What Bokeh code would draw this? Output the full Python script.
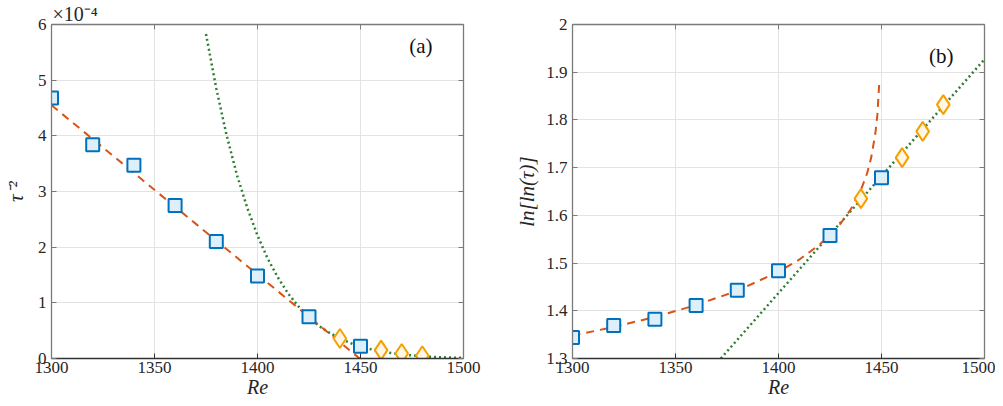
from bokeh.plotting import figure
from bokeh.models import LinearAxis, FixedTicker, Label, Range1d, Title
from bokeh.layouts import row
from bokeh.embed import file_html
from bokeh.resources import INLINE

# ---------------- data ----------------
# panel (a): tau^-2 in units of 1e-4
re_sq = [1300, 1320, 1340, 1360, 1380, 1400, 1425, 1450]
tau_sq = [4.68, 3.84, 3.47, 2.75, 2.10, 1.48, 0.75, 0.22]
re_dm = [1440, 1460, 1470, 1480]
tau_dm = [0.36, 0.15, 0.09, 0.05]
fit_lin_re = [1300, 1449.6]
fit_lin_val = [4.55, 0.0]
fit_exp_re = [1375, 1380, 1385, 1390, 1395, 1400, 1405, 1410, 1415, 1420, 1425,
              1430, 1435, 1440, 1445, 1450, 1460, 1470, 1480, 1490, 1500]
fit_exp_val = [5.83, 4.85, 4.01, 3.30, 2.71, 2.21, 1.79, 1.45, 1.16, 0.93, 0.74,
               0.58, 0.46, 0.36, 0.28, 0.21, 0.124, 0.071, 0.039, 0.021, 0.011]

# panel (b): ln[ln(tau)]
ll_sq = [1.344, 1.369, 1.382, 1.411, 1.443, 1.484, 1.558, 1.679]
ll_dm = [1.635, 1.721, 1.776, 1.832]
fit_curve_re = [1300, 1320, 1340, 1360, 1380, 1400, 1410, 1420, 1425, 1430, 1435,
                1440, 1443, 1445, 1447, 1448, 1449]
fit_curve_val = [1.348, 1.366, 1.387, 1.412, 1.442, 1.482, 1.507, 1.539, 1.558,
                 1.582, 1.612, 1.653, 1.688, 1.721, 1.771, 1.811, 1.884]
fit_line_re = [1372, 1500]
fit_line_val = [1.300, 1.927]

x_ticks = [1300, 1350, 1400, 1450, 1500]
ya_ticks = [0, 1, 2, 3, 4, 5, 6]
yb_ticks = [1.3, 1.4, 1.5, 1.6, 1.7, 1.8, 1.9, 2.0]

# ---------------- style ----------------
FONT = "Liberation Serif"
BLUE = "#0072BD"
BLUE_FILL = "#DDEFFA"
ORANGE = "#F5A000"
ORANGE_FILL = "#FFF6E3"
RED = "#D95319"
GREEN = "#2E7D32"


def style_axis(ax, ticks, color, labels=True):
    ax.ticker = FixedTicker(ticks=ticks)
    ax.major_label_text_font = FONT
    ax.major_label_text_font_size = "17px" if labels else "0px"
    ax.major_label_text_color = "#262626"
    ax.major_tick_in = 5
    ax.major_tick_out = 0
    ax.minor_tick_in = 0
    ax.minor_tick_out = 0
    ax.axis_line_color = color
    ax.axis_line_width = 1.3
    ax.major_tick_line_color = color
    ax.axis_label_text_font = FONT
    ax.axis_label_text_font_size = "21px"
    ax.axis_label_text_font_style = "italic"
    ax.axis_label_text_color = "#262626"
    ax.major_label_standoff = 5 if labels else 0


def make(bl, br, yrange, yticks, title_text):
    p = figure(frame_width=412, frame_height=334, output_backend="svg",
               toolbar_location=None,
               x_range=Range1d(1300, 1500), y_range=Range1d(*yrange),
               min_border_left=bl, min_border_right=br, min_border_top=24,
               min_border_bottom=10, x_axis_location=None, y_axis_location=None)
    bottom = LinearAxis()
    left = LinearAxis()
    top = LinearAxis()
    right = LinearAxis()
    style_axis(bottom, x_ticks, "#333333")
    style_axis(left, yticks, "#7a7a7a")
    style_axis(top, x_ticks, "#7a7a7a", labels=False)
    style_axis(right, yticks, "#7a7a7a", labels=False)
    bottom.axis_label = "Re"
    bottom.axis_label_text_font_size = "20px"
    bottom.axis_label_standoff = 0
    bottom.major_label_standoff = 3
    p.add_layout(bottom, "below")
    p.add_layout(left, "left")
    p.add_layout(top, "above")
    p.add_layout(right, "right")
    p.add_layout(Title(text=title_text, align="left", offset=1, standoff=0,
                       text_font=FONT, text_font_size="20px",
                       text_font_style="normal", text_color="#262626"), "above")
    p.xgrid.ticker = FixedTicker(ticks=x_ticks)
    p.ygrid.ticker = FixedTicker(ticks=yticks)
    p.grid.grid_line_color = "#e3e3e3"
    p.grid.grid_line_width = 1
    p.outline_line_color = None
    return p, left


# ---------------- panel (a) ----------------
p1, left1 = make(51, 37, (0, 6), ya_ticks, "×10⁻⁴")
left1.axis_label = "τ⁻²"
left1.axis_label_standoff = 7

p1.line(fit_exp_re, fit_exp_val, line_color=GREEN, line_width=2.5, line_dash="2 3")
p1.line(fit_lin_re, fit_lin_val, line_color=RED, line_width=2, line_dash="8 6")
p1.scatter(re_sq, tau_sq, marker="square", size=13, line_color=BLUE, line_width=2,
           fill_color=BLUE_FILL)
p1.scatter(re_dm, tau_dm, marker="diamond", size=19, line_color=ORANGE, line_width=2,
           fill_color=ORANGE_FILL)

p1.add_layout(Label(x=1485, y=5.62, text="(a)", text_align="right",
                    text_baseline="middle",
                    text_font=FONT, text_font_size="21px", text_color="#111111"))

# ---------------- panel (b) ----------------
p2, left2 = make(72, 11, (1.3, 2.0), yb_ticks, " ")
left2.major_label_overrides = {2: "2"}
left2.axis_label = "ln[ln(τ)]"
left2.axis_label_standoff = 4

p2.line(fit_line_re, fit_line_val, line_color=GREEN, line_width=2.5, line_dash="2 3")
p2.line(fit_curve_re, fit_curve_val, line_color=RED, line_width=2, line_dash="8 6")
p2.scatter(re_sq, ll_sq, marker="square", size=13, line_color=BLUE, line_width=2,
           fill_color=BLUE_FILL)
p2.scatter(re_dm, ll_dm, marker="diamond", size=19, line_color=ORANGE, line_width=2,
           fill_color=ORANGE_FILL)

p2.add_layout(Label(x=1485, y=1.935, text="(b)", text_align="right",
                    text_baseline="middle",
                    text_font=FONT, text_font_size="21px", text_color="#111111"))

layout = row(p1, p2, spacing=0)
open("out.html", "w").write(file_html(layout, INLINE))
